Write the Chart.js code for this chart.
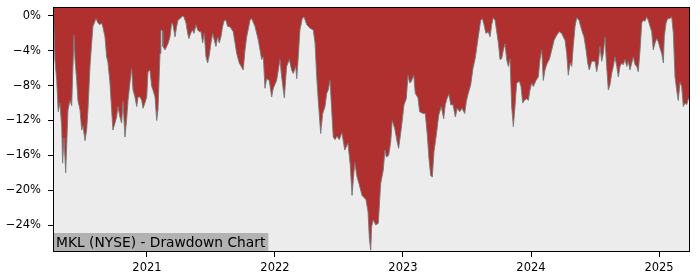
<!DOCTYPE html>
<html>
<head>
<meta charset="utf-8">
<title>MKL Drawdown</title>
<script src="https://cdn.jsdelivr.net/npm/chart.js@4/dist/chart.umd.min.js"></script>
<style>
    body { margin: 0; background: #fff; }
    #wrap { width: 700px; height: 280px; position: relative; }
</style>
</head>
<body>
<div id="wrap"><canvas id="ddChart"></canvas></div>
<script>
// Dates en années décimales
const dates = [
    2020.266, 2020.273, 2020.281, 2020.295, 2020.307, 2020.320, 2020.334, 2020.341, 2020.352, 2020.365,
    2020.375, 2020.383, 2020.398, 2020.412, 2020.430, 2020.438, 2020.451, 2020.461, 2020.477, 2020.490,
    2020.500, 2020.516, 2020.529, 2020.539, 2020.555, 2020.568, 2020.578, 2020.602, 2020.617, 2020.633,
    2020.646, 2020.656, 2020.672, 2020.685, 2020.695, 2020.711, 2020.724, 2020.734, 2020.750, 2020.763,
    2020.773, 2020.789, 2020.802, 2020.813, 2020.828, 2020.841, 2020.852, 2020.867, 2020.880, 2020.891,
    2020.906, 2020.920, 2020.930, 2020.945, 2020.959, 2020.969, 2020.984, 2020.998, 2021.008, 2021.023,
    2021.037, 2021.047, 2021.063, 2021.076, 2021.086, 2021.102, 2021.109, 2021.120, 2021.125, 2021.141,
    2021.154, 2021.164, 2021.180, 2021.193, 2021.203, 2021.219, 2021.232, 2021.242, 2021.258, 2021.279,
    2021.289, 2021.305, 2021.318, 2021.328, 2021.341, 2021.357, 2021.367, 2021.383, 2021.396, 2021.409,
    2021.422, 2021.435, 2021.448, 2021.461, 2021.474, 2021.487, 2021.500, 2021.513, 2021.526, 2021.539,
    2021.552, 2021.565, 2021.578, 2021.591, 2021.604, 2021.617, 2021.630, 2021.643, 2021.656, 2021.674,
    2021.688, 2021.701, 2021.721, 2021.752, 2021.766, 2021.779, 2021.805, 2021.818, 2021.844, 2021.870,
    2021.896, 2021.909, 2021.922, 2021.935, 2021.955, 2021.974, 2021.987, 2022.013, 2022.039, 2022.052,
    2022.073, 2022.091, 2022.112, 2022.130, 2022.143, 2022.162, 2022.170, 2022.182, 2022.195, 2022.213,
    2022.227, 2022.248, 2022.273, 2022.299, 2022.313, 2022.326, 2022.338, 2022.357, 2022.373, 2022.391,
    2022.404, 2022.416, 2022.430, 2022.443, 2022.455, 2022.469, 2022.484, 2022.502, 2022.523, 2022.545,
    2022.570, 2022.588, 2022.602, 2022.623, 2022.641, 2022.659, 2022.680, 2022.693, 2022.711, 2022.727,
    2022.737, 2022.748, 2022.755, 2022.768, 2022.787, 2022.807, 2022.826, 2022.846, 2022.859, 2022.870,
    2022.888, 2022.904, 2022.916, 2022.935, 2022.955, 2022.966, 2022.987, 2023.008, 2023.026, 2023.039,
    2023.052, 2023.065, 2023.084, 2023.096, 2023.117, 2023.130, 2023.156, 2023.174, 2023.190, 2023.203,
    2023.216, 2023.229, 2023.242, 2023.260, 2023.279, 2023.299, 2023.318, 2023.330, 2023.346, 2023.359,
    2023.373, 2023.391, 2023.409, 2023.424, 2023.443, 2023.461, 2023.482, 2023.495, 2023.508, 2023.529,
    2023.547, 2023.565, 2023.588, 2023.607, 2023.620, 2023.633, 2023.648, 2023.666, 2023.680, 2023.693,
    2023.705, 2023.719, 2023.732, 2023.745, 2023.758, 2023.771, 2023.784, 2023.797, 2023.810, 2023.823,
    2023.836, 2023.849, 2023.862, 2023.875, 2023.888, 2023.909, 2023.922, 2023.935, 2023.948, 2023.966,
    2023.979, 2023.992, 2024.005, 2024.018, 2024.039, 2024.057, 2024.070, 2024.084, 2024.096, 2024.109,
    2024.127, 2024.143, 2024.162, 2024.180, 2024.201, 2024.221, 2024.240, 2024.252, 2024.266, 2024.279,
    2024.291, 2024.305, 2024.318, 2024.330, 2024.344, 2024.357, 2024.375, 2024.388, 2024.404, 2024.414,
    2024.430, 2024.443, 2024.455, 2024.474, 2024.487, 2024.500, 2024.513, 2024.526, 2024.539, 2024.552,
    2024.565, 2024.578, 2024.591, 2024.604, 2024.617, 2024.630, 2024.643, 2024.656, 2024.670, 2024.682,
    2024.695, 2024.709, 2024.721, 2024.734, 2024.748, 2024.760, 2024.773, 2024.787, 2024.799, 2024.813,
    2024.826, 2024.838, 2024.852, 2024.865, 2024.877, 2024.891, 2024.904, 2024.916, 2024.930, 2024.943,
    2024.955, 2024.969, 2024.982, 2024.995, 2025.008, 2025.021, 2025.034, 2025.041, 2025.055, 2025.068,
    2025.086, 2025.099, 2025.112, 2025.125, 2025.138, 2025.150, 2025.164, 2025.177, 2025.190, 2025.203,
    2025.216, 2025.229, 2025.242
];

// Drawdown en %
const drawdown = [
    -1.2, -1.3, -5.0, -7.4, -11.0, -10.0, -12.8, -16.9, -14.0, -18.0,
    -14.0, -10.8, -9.7, -10.3, -2.2, -5.0, -7.4, -9.7, -10.8, -13.1,
    -12.6, -14.3, -13.1, -10.8, -5.8, -3.1, -1.2, -0.3, -0.8, -1.0,
    -0.8, -1.3, -2.4, -4.7, -5.3, -7.7, -10.8, -13.1, -12.3, -11.6,
    -10.4, -11.6, -12.3, -9.8, -13.9, -11.9, -9.7, -7.7, -6.0, -8.5,
    -9.3, -10.4, -9.3, -9.3, -9.7, -10.6, -10.0, -9.3, -6.4, -6.2,
    -8.1, -8.5, -9.3, -12.0, -10.8, -4.3, -1.6, -1.7, -3.5, -3.9,
    -3.5, -3.2, -2.4, -0.8, -1.0, -2.4, -1.2, -0.5, -0.3, 0.0,
    -0.1, -0.8, -2.0, -2.6, -2.0, -1.6, -2.0, -1.0, -1.6, -1.8,
    -1.8, -3.1, -2.0, -4.7, -5.4, -4.5, -3.1, -2.0, -2.8, -3.5,
    -2.4, -3.1, -2.4, -1.2, -0.5, -0.5, -1.2, -1.2, -1.4, -1.8,
    -3.1, -4.3, -5.4, -6.2, -3.9, -2.4, -0.5, -0.3, -1.2, -2.8,
    -5.0, -4.7, -8.3, -7.2, -7.4, -9.3, -8.3, -7.4, -5.0, -7.0,
    -9.4, -5.8, -5.0, -6.2, -6.6, -5.8, -7.2, -4.7, -1.6, -0.3,
    -0.1, -1.0, -1.4, -1.6, -3.1, -7.0, -9.7, -13.5, -11.2, -10.4,
    -8.9, -8.5, -7.4, -10.8, -13.9, -14.2, -13.8, -14.2, -13.4, -15.4,
    -14.6, -17.1, -20.6, -16.8, -18.5, -19.4, -20.6, -20.8, -21.1, -22.5,
    -25.5, -26.9, -24.2, -23.4, -24.0, -23.8, -19.2, -17.7, -15.4, -16.2,
    -16.0, -14.5, -12.0, -12.9, -14.5, -15.2, -12.9, -10.2, -9.5, -6.8,
    -7.7, -7.5, -6.8, -8.9, -9.4, -11.0, -11.2, -11.2, -13.7, -16.4,
    -18.3, -18.5, -15.6, -13.7, -11.4, -10.4, -11.8, -10.2, -9.4, -9.0,
    -10.2, -10.2, -11.6, -10.6, -11.0, -10.6, -11.2, -9.8, -9.0, -7.9,
    -6.0, -4.8, -2.4, -0.5, -0.3, -1.0, -2.0, -1.8, -2.4, -1.0,
    -0.2, -0.5, -1.8, -3.1, -5.0, -4.9, -3.9, -3.2, -5.0, -5.8,
    -4.9, -10.4, -12.7, -10.4, -7.7, -7.5, -8.1, -10.0, -9.7, -9.5,
    -9.7, -8.5, -7.7, -8.1, -7.4, -7.0, -5.0, -3.9, -7.4, -6.2,
    -5.4, -5.0, -3.9, -2.8, -2.2, -1.8, -2.0, -2.4, -2.8, -4.3,
    -6.8, -5.4, -5.8, -3.5, -1.2, -0.2, -0.5, -1.2, -2.0, -2.4,
    -3.9, -5.4, -6.2, -5.2, -5.2, -5.2, -6.4, -5.4, -3.5, -5.2,
    -4.3, -2.4, -5.8, -8.5, -7.9, -6.6, -5.8, -4.7, -5.8, -7.0,
    -5.8, -5.4, -5.6, -5.0, -5.8, -5.2, -6.2, -5.4, -4.7, -5.6,
    -5.8, -6.4, -3.9, -0.8, -0.5, -0.6, -0.1, -0.5, -1.2, -1.8,
    -3.9, -3.1, -2.6, -3.0, -3.7, -4.3, -5.4, -2.4, -0.8, -0.3,
    -0.3, -0.1, -2.0, -7.0, -8.5, -9.7, -7.6, -8.1, -10.4, -10.0,
    -10.2, -9.5, -9.5
];

const yearTicks = [2021, 2022, 2023, 2024, 2025];
const pctTicks = [0, -4, -8, -12, -16, -20, -24];
const chartLabel = 'MKL (NYSE) - Drawdown Chart';

let ddChart;

document.addEventListener('DOMContentLoaded', function() {
    initChart();
});

// Fond gris, cadre noir et étiquette en bas à gauche
const framePlugin = {
    id: 'frame',
    beforeDraw(chart) {
        const a = chart.chartArea;
        const ctx = chart.ctx;
        ctx.save();
        ctx.fillStyle = '#ececec';
        ctx.fillRect(a.left, a.top, a.right - a.left, a.bottom - a.top);
        ctx.restore();
    },
    afterDatasetsDraw(chart) {
        const a = chart.chartArea;
        const ctx = chart.ctx;
        ctx.save();
        ctx.font = '13.8px "DejaVu Sans"';
        const w = ctx.measureText(chartLabel).width;
        ctx.fillStyle = '#b2b2b2';
        ctx.fillRect(a.left, a.bottom - 19, w + 6, 19);
        ctx.fillStyle = '#000';
        ctx.textBaseline = 'middle';
        ctx.fillText(chartLabel, a.left + 3, a.bottom - 9);
        ctx.strokeStyle = '#000';
        ctx.lineWidth = 1;
        ctx.strokeRect(a.left + 0.5, a.top + 0.5, a.right - a.left - 1, a.bottom - a.top - 1);
        ctx.restore();
    }
};

function initChart() {
    const points = dates.map((d, i) => ({ x: d, y: drawdown[i] }));
    const ctx = document.getElementById('ddChart').getContext('2d');
    const tickFont = { family: 'DejaVu Sans', size: 11.5 };

    ddChart = new Chart(ctx, {
        type: 'line',
        data: {
            datasets: [{
                data: points,
                borderColor: 'rgba(120, 120, 120, 0.9)',
                borderWidth: 1,
                backgroundColor: '#b03030',
                fill: 'end',
                pointRadius: 0,
                tension: 0
            }]
        },
        options: {
            responsive: true,
            maintainAspectRatio: false,
            animation: false,
            layout: { padding: { top: 7, right: 10, left: 0, bottom: 0 } },
            plugins: {
                legend: { display: false },
                tooltip: { enabled: false }
            },
            scales: {
                x: {
                    type: 'linear',
                    min: 2020.266,
                    max: 2025.242,
                    afterBuildTicks: s => { s.ticks = yearTicks.map(v => ({ value: v })); },
                    afterFit: s => {
                        s.height = 28;
                        s.paddingLeft = 0;
                        s.paddingRight = 0;
                    },
                    grid: { drawOnChartArea: false, drawTicks: true, tickLength: 5, color: '#000' },
                    border: { display: false },
                    ticks: {
                        color: '#000',
                        font: tickFont,
                        padding: 4,
                        maxRotation: 0,
                        callback: v => String(v)
                    }
                },
                y: {
                    min: -27.1,
                    max: 1.03,
                    afterBuildTicks: s => { s.ticks = pctTicks.map(v => ({ value: v })); },
                    afterFit: s => {
                        s.width = 53;
                        s.paddingTop = 0;
                        s.paddingBottom = 0;
                    },
                    grid: { drawOnChartArea: false, drawTicks: true, tickLength: 5, color: '#000' },
                    border: { display: false },
                    ticks: {
                        color: '#000',
                        font: tickFont,
                        padding: 7,
                        callback: v => (v < 0 ? '\u2212' : '') + Math.abs(v) + '%'
                    }
                }
            }
        },
        plugins: [framePlugin]
    });
}
</script>
</body>
</html>
